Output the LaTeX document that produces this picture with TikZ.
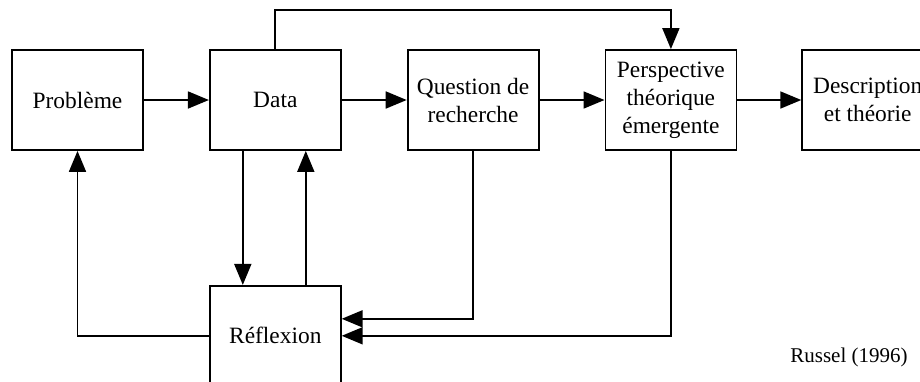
\documentclass[tikz,border=0pt]{standalone}
\usepackage{fontspec}
\setmainfont{Liberation Serif}
\usetikzlibrary{arrows.meta, positioning}

\begin{document}
\begin{tikzpicture}[x=0.5pt, y=-0.5pt, line width=0.9pt,
                font=\fontsize{11.7pt}{14pt}\selectfont,
                step box/.style={draw, minimum width=65.5pt, minimum height=50pt, align=center, inner sep=1pt},
                flow/.style={-{Triangle[length=10.5pt, width=8.5pt]}}]
                \useasboundingbox (0,0) rectangle (920,381);

                % Main chain
                \node[step box] (prob) at (77.5,100) {Problème};
                \node[step box, right=32.5pt of prob] (data) {Data};
                \node[step box, right=32.5pt of data] (quest) {Question de\\recherche};
                \node[step box, right=32.5pt of quest] (persp) {Perspective\\théorique\\émergente};
                \node[step box, right=32pt of persp] (desc) {Description\\et théorie};

                % Reflection loop
                \node[step box, below=67pt of data] (refl) {Réflexion};
                \coordinate (top) at (0,10);

                \draw[flow] (prob) -- (data);
                \draw[flow] (data) -- (quest);
                \draw[flow] (quest) -- (persp);
                \draw[flow] (persp) -- (desc);
                \draw[flow] (data.north) -- (data.north |- top) -| (persp.north);
                \draw[flow] ([xshift=-16.25pt]data.south) -- ([xshift=-16.25pt]refl.north);
                \draw[flow] ([xshift=15.25pt]refl.north) -- ([xshift=15.25pt]data.south);
                \draw[flow] (refl.west) -| (prob.south);
                \draw[flow] (quest.south) |- ([yshift=8.5pt]refl.east);
                \draw[flow] (persp.south) |- (refl.east);

                \node[font=\fontsize{10.5pt}{12pt}\selectfont] (src) at (849,357) {Russel (1996)};
            \end{tikzpicture}
\end{document}
